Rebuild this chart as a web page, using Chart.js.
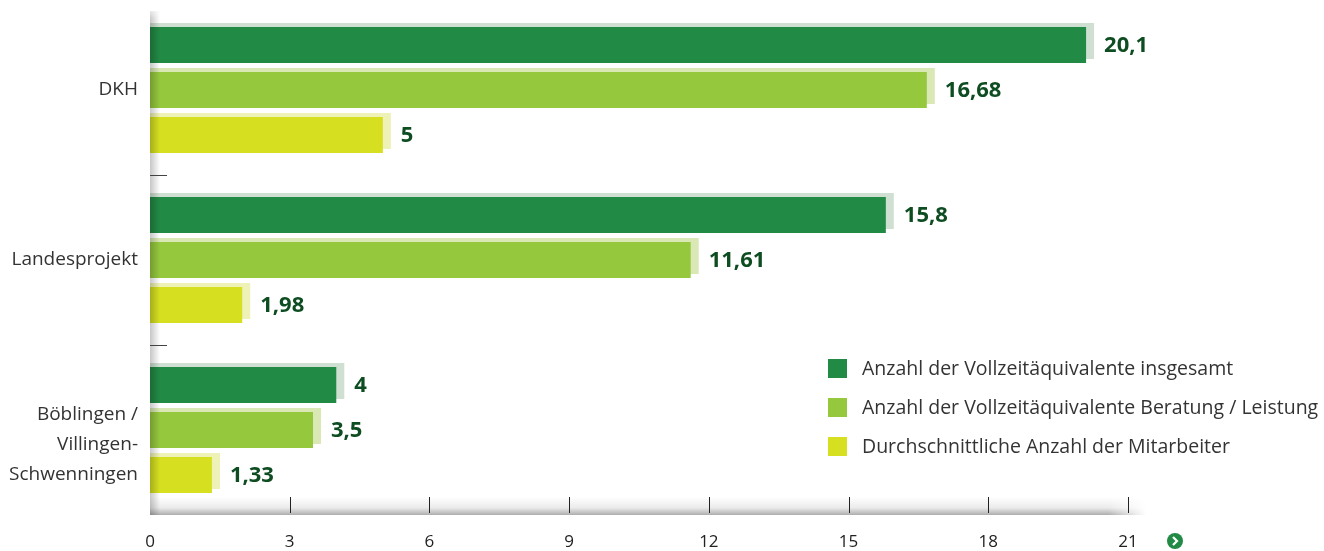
<!DOCTYPE html>
<html>
<head>
<meta charset="utf-8">
<script src="https://cdn.jsdelivr.net/npm/chart.js@4"></script>
<style>
  html, body { margin: 0; padding: 0; background: #fff; }
  #wrap { width: 1324px; height: 551px; position: relative; }
</style>
</head>
<body>
<div id="wrap"><canvas id="vzaChart"></canvas></div>
<script>
// Kategorien und Werte
const categories = ['DKH', 'Landesprojekt', ['Böblingen /', 'Villingen-', 'Schwenningen']];
const seriesNames = [
    'Anzahl der Vollzeitäquivalente insgesamt',
    'Anzahl der Vollzeitäquivalente Beratung / Leistung',
    'Durchschnittliche Anzahl der Mitarbeiter'
];
const vzaGesamt = [20.1, 15.8, 4];
const vzaBeratung = [16.68, 11.61, 3.5];
const mitarbeiter = [5, 1.98, 1.33];
const xTicks = [0, 3, 6, 9, 12, 15, 18, 21];

const barColors = ['#218a44', '#95c83d', '#d6e021'];
const shadowColors = ['#cfe0d3', '#d9e8b4', '#eef2b6'];
const FONT = '"Open Sans", "DejaVu Sans", sans-serif';

function fmt(v) {
    return String(v).replace('.', ',');
}

// Schatten, Werte, Achsenband und Legende
const decorPlugin = {
    id: 'decor',
    beforeDatasetsDraw(chart) {
        const ctx = chart.ctx;
        chart.data.datasets.forEach((ds, i) => {
            const meta = chart.getDatasetMeta(i);
            meta.data.forEach(bar => {
                const h = bar.height;
                ctx.fillStyle = shadowColors[i];
                ctx.fillRect(bar.base, bar.y - h / 2 - 4, bar.x - bar.base + 8, h);
            });
        });
    },
    afterDatasetsDraw(chart) {
        const ctx = chart.ctx;
        const area = chart.chartArea;
        const xs = chart.scales.x;
        const ys = chart.scales.y;

        // Werte rechts neben den Balken
        ctx.save();
        ctx.font = 'bold 22px ' + FONT;
        ctx.fillStyle = '#0e4d21';
        ctx.textAlign = 'left';
        ctx.textBaseline = 'middle';
        chart.data.datasets.forEach((ds, i) => {
            chart.getDatasetMeta(i).data.forEach((bar, j) => {
                ctx.fillText(fmt(ds.data[j]), bar.x + 18, bar.y + 1);
            });
        });
        ctx.restore();

        // Schatten links an der Achse
        ctx.save();
        const lg = ctx.createLinearGradient(area.left, 0, area.left + 10, 0);
        lg.addColorStop(0, 'rgba(0,0,0,0.22)');
        lg.addColorStop(1, 'rgba(0,0,0,0)');
        ctx.fillStyle = lg;
        ctx.fillRect(area.left, area.top + 6, 10, area.bottom - area.top - 6);
        const tg = ctx.createLinearGradient(0, area.top, 0, area.top + 14);
        tg.addColorStop(0, 'rgba(255,255,255,1)');
        tg.addColorStop(1, 'rgba(255,255,255,0)');
        ctx.fillStyle = tg;
        ctx.fillRect(area.left - 2, area.top - 6, 14, 20);
        ctx.restore();

        // Band unten
        ctx.save();
        const bandTop = area.bottom - 18;
        const bandRight = area.right + 18;
        const bg = ctx.createLinearGradient(0, bandTop, 0, area.bottom);
        bg.addColorStop(0, 'rgba(0,0,0,0)');
        bg.addColorStop(0.6, 'rgba(0,0,0,0.08)');
        bg.addColorStop(1, 'rgba(0,0,0,0.32)');
        ctx.fillStyle = bg;
        ctx.fillRect(area.left, bandTop, bandRight - area.left, area.bottom - bandTop);
        const fg = ctx.createLinearGradient(area.right - 20, 0, bandRight, 0);
        fg.addColorStop(0, 'rgba(255,255,255,0)');
        fg.addColorStop(1, 'rgba(255,255,255,1)');
        ctx.fillStyle = fg;
        ctx.fillRect(area.right - 20, bandTop, bandRight - area.right + 20, area.bottom - bandTop + 1);

        // Teilstriche
        ctx.strokeStyle = '#222';
        ctx.lineWidth = 1;
        xTicks.forEach(t => {
            if (t === 0) return;
            const px = Math.round(xs.getPixelForValue(t)) + 0.5;
            ctx.beginPath();
            ctx.moveTo(px, bandTop);
            ctx.lineTo(px, area.bottom - 2);
            ctx.stroke();
        });

        // Trennstriche zwischen Kategorien
        ctx.strokeStyle = '#444';
        for (let i = 0; i < categories.length - 1; i++) {
            const py = Math.round((ys.getPixelForValue(i) + ys.getPixelForValue(i + 1)) / 2) + 0.5;
            ctx.beginPath();
            ctx.moveTo(area.left, py);
            ctx.lineTo(area.left + 17, py);
            ctx.stroke();
        }
        ctx.restore();

        // Pfeil-Knopf
        ctx.save();
        const cx = area.right + 47, cy = 541;
        ctx.fillStyle = '#218a44';
        ctx.beginPath();
        ctx.arc(cx, cy, 8, 0, Math.PI * 2);
        ctx.fill();
        ctx.strokeStyle = '#fff';
        ctx.lineWidth = 2.2;
        ctx.beginPath();
        ctx.moveTo(cx - 2, cy - 4);
        ctx.lineTo(cx + 2, cy);
        ctx.lineTo(cx - 2, cy + 4);
        ctx.stroke();
        ctx.restore();

        // Legende
        ctx.save();
        ctx.font = '19.5px ' + FONT;
        ctx.textAlign = 'left';
        ctx.textBaseline = 'middle';
        chart.data.datasets.forEach((ds, i) => {
            const ly = 368 + i * 39;
            ctx.fillStyle = ds.backgroundColor;
            ctx.fillRect(828, ly - 9, 19, 19);
            ctx.fillStyle = '#333';
            ctx.fillText(ds.label, 862, ly + 1);
        });
        ctx.restore();
    }
};

function createVzaChart() {
    const ctx = document.getElementById('vzaChart');
    if (!ctx) return;

    new Chart(ctx, {
        type: 'bar',
        data: {
            labels: categories,
            datasets: [{
                label: seriesNames[0],
                data: vzaGesamt,
                backgroundColor: barColors[0]
            }, {
                label: seriesNames[1],
                data: vzaBeratung,
                backgroundColor: barColors[1]
            }, {
                label: seriesNames[2],
                data: mitarbeiter,
                backgroundColor: barColors[2]
            }]
        },
        options: {
            indexAxis: 'y',
            responsive: true,
            maintainAspectRatio: false,
            animation: false,
            categoryPercentage: 0.794,
            barPercentage: 0.8,
            layout: {
                padding: { top: 5, right: 196, left: 0, bottom: 0 }
            },
            plugins: {
                legend: { display: false },
                tooltip: { enabled: false }
            },
            scales: {
                x: {
                    min: 0,
                    max: 21,
                    afterBuildTicks: function(scale) {
                        scale.ticks = xTicks.map(v => ({ value: v }));
                    },
                    afterFit: function(scale) {
                        scale.height = 36;
                        scale.paddingLeft = 0;
                        scale.paddingRight = 0;
                    },
                    grid: { display: false, drawTicks: false },
                    border: { display: false },
                    ticks: {
                        padding: 17,
                        maxRotation: 0,
                        color: '#222',
                        font: { family: FONT, size: 17 }
                    }
                },
                y: {
                    afterFit: function(scale) {
                        scale.width = 150;
                        scale.paddingTop = 0;
                        scale.paddingBottom = 0;
                    },
                    grid: { display: false, drawTicks: false },
                    border: { display: false },
                    ticks: {
                        padding: 12,
                        color: '#333',
                        font: { family: FONT, size: 19, lineHeight: 1.58 },
                        callback: function(value, index) {
                            const l = categories[index];
                            // leere Zeile, damit der Block etwas tiefer sitzt
                            return Array.isArray(l) ? [''].concat(l) : l;
                        }
                    }
                }
            }
        },
        plugins: [decorPlugin]
    });
}

document.addEventListener('DOMContentLoaded', createVzaChart);
</script>
</body>
</html>
